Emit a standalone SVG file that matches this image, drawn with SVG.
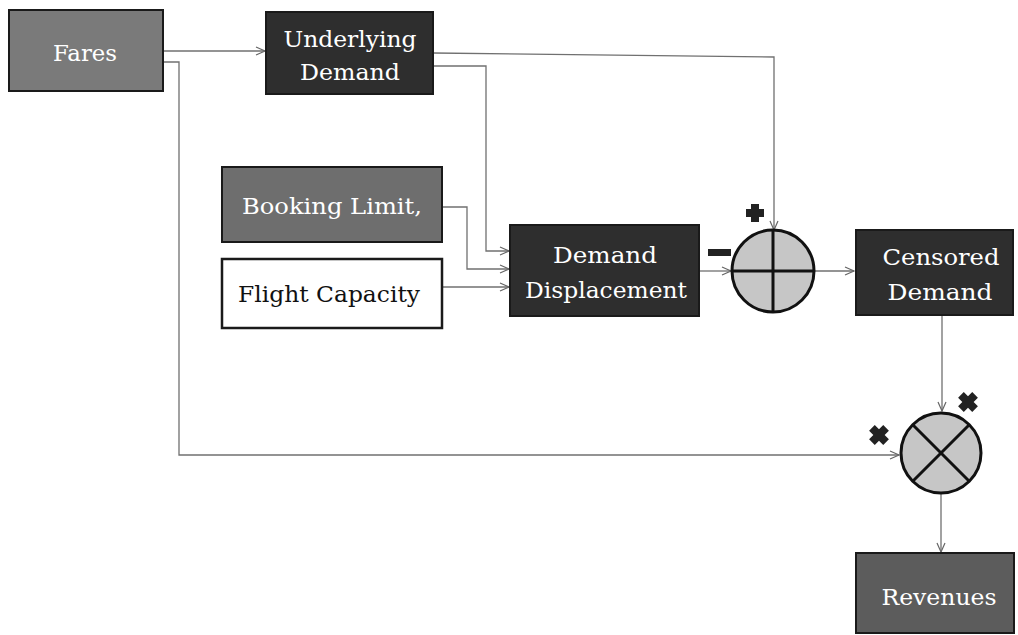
<svg xmlns="http://www.w3.org/2000/svg" width="1018" height="635" viewBox="0 0 1018 635">
<defs>
<marker id="arr" markerWidth="12" markerHeight="10" refX="10" refY="5" orient="auto" markerUnits="userSpaceOnUse">
<path d="M1,1 L10,5 L1,9" fill="none" stroke="#666" stroke-width="1.2"/>
</marker>
</defs>
<style>
.box{stroke:#1a1a1a;stroke-width:2}
.mid{fill:#7a7a7a}
.dark{fill:#2e2e2e}
.midd{fill:#5c5c5c}
.wt{fill:#ffffff}
text{font-family:'DejaVu Serif',serif;font-size:23px;text-anchor:middle}
.lbl{fill:#ffffff}
.lblk{fill:#111}
.con{fill:none;stroke:#707070;stroke-width:1.3}
.op{fill:#c6c6c6;stroke:#111;stroke-width:3}
.opl{stroke:#111;stroke-width:3}
.sym{fill:#222}
</style>
<g id="connectors">
<path class="con" d="M163,51 H265" marker-end="url(#arr)"/>
<path class="con" d="M163,62 H179 V455 H899" marker-end="url(#arr)"/>
<path class="con" d="M433,53 L774,57 V230" marker-end="url(#arr)"/>
<path class="con" d="M433,66 H486 V251 H509" marker-end="url(#arr)"/>
<path class="con" d="M442,207 H467 V269 H509" marker-end="url(#arr)"/>
<path class="con" d="M442,287 H509" marker-end="url(#arr)"/>
<path class="con" d="M699,271 H731" marker-end="url(#arr)"/>
<path class="con" d="M815,271 H854" marker-end="url(#arr)"/>
<path class="con" d="M942,315 V411" marker-end="url(#arr)"/>
<path class="con" d="M941,494 V552" marker-end="url(#arr)"/>
</g>
<g id="fares">
<rect class="box mid" x="9" y="10" width="154" height="81"/>
<text class="lbl" x="85" y="61" textLength="64" lengthAdjust="spacingAndGlyphs">Fares</text>
</g>
<g id="underlying-demand">
<rect class="box dark" x="266" y="12" width="167" height="82"/>
<text class="lbl" x="350" y="47" textLength="133" lengthAdjust="spacingAndGlyphs">Underlying</text>
<text class="lbl" x="350" y="80" textLength="100" lengthAdjust="spacingAndGlyphs">Demand</text>
</g>
<g id="booking-limit">
<rect class="box mid" x="222" y="167" width="220" height="75" style="fill:#6e6e6e"/>
<text class="lbl" x="332" y="214" textLength="180" lengthAdjust="spacingAndGlyphs">Booking Limit,</text>
</g>
<g id="flight-capacity">
<rect class="box wt" x="222" y="259" width="220" height="69" style="stroke-width:2.5"/>
<text class="lblk" x="329" y="302" textLength="182" lengthAdjust="spacingAndGlyphs">Flight Capacity</text>
</g>
<g id="demand-displacement">
<rect class="box dark" x="510" y="225" width="189" height="91"/>
<text class="lbl" x="605" y="263" textLength="104" lengthAdjust="spacingAndGlyphs">Demand</text>
<text class="lbl" x="606" y="298" textLength="162" lengthAdjust="spacingAndGlyphs">Displacement</text>
</g>
<g id="sum">
<circle class="op" cx="773" cy="271" r="41"/>
<line class="opl" x1="732" y1="271" x2="814" y2="271"/>
<line class="opl" x1="773" y1="230" x2="773" y2="312"/>
<path class="sym" d="M751,204 H759 V209 H764 V217 H759 V222 H751 V217 H746 V209 H751 Z"/>
<rect class="sym" x="708" y="249" width="23" height="7"/>
</g>
<g id="censored-demand">
<rect class="box dark" x="856" y="230" width="157" height="85"/>
<text class="lbl" x="941" y="265" textLength="117" lengthAdjust="spacingAndGlyphs">Censored</text>
<text class="lbl" x="940" y="300" textLength="105" lengthAdjust="spacingAndGlyphs">Demand</text>
</g>
<g id="product">
<circle class="op" cx="941" cy="453" r="40"/>
<line class="opl" x1="913" y1="425" x2="969" y2="481"/>
<line class="opl" x1="969" y1="425" x2="913" y2="481"/>
<path class="sym" transform="translate(968,402) rotate(45)" d="M-4,-10 H4 V-4 H10 V4 H4 V10 H-4 V4 H-10 V-4 H-4 Z"/>
<path class="sym" transform="translate(879,435) rotate(45)" d="M-4,-10 H4 V-4 H10 V4 H4 V10 H-4 V4 H-10 V-4 H-4 Z"/>
</g>
<g id="revenues">
<rect class="box midd" x="856" y="553" width="158" height="80"/>
<text class="lbl" x="939" y="605" textLength="115" lengthAdjust="spacingAndGlyphs">Revenues</text>
</g>
</svg>
